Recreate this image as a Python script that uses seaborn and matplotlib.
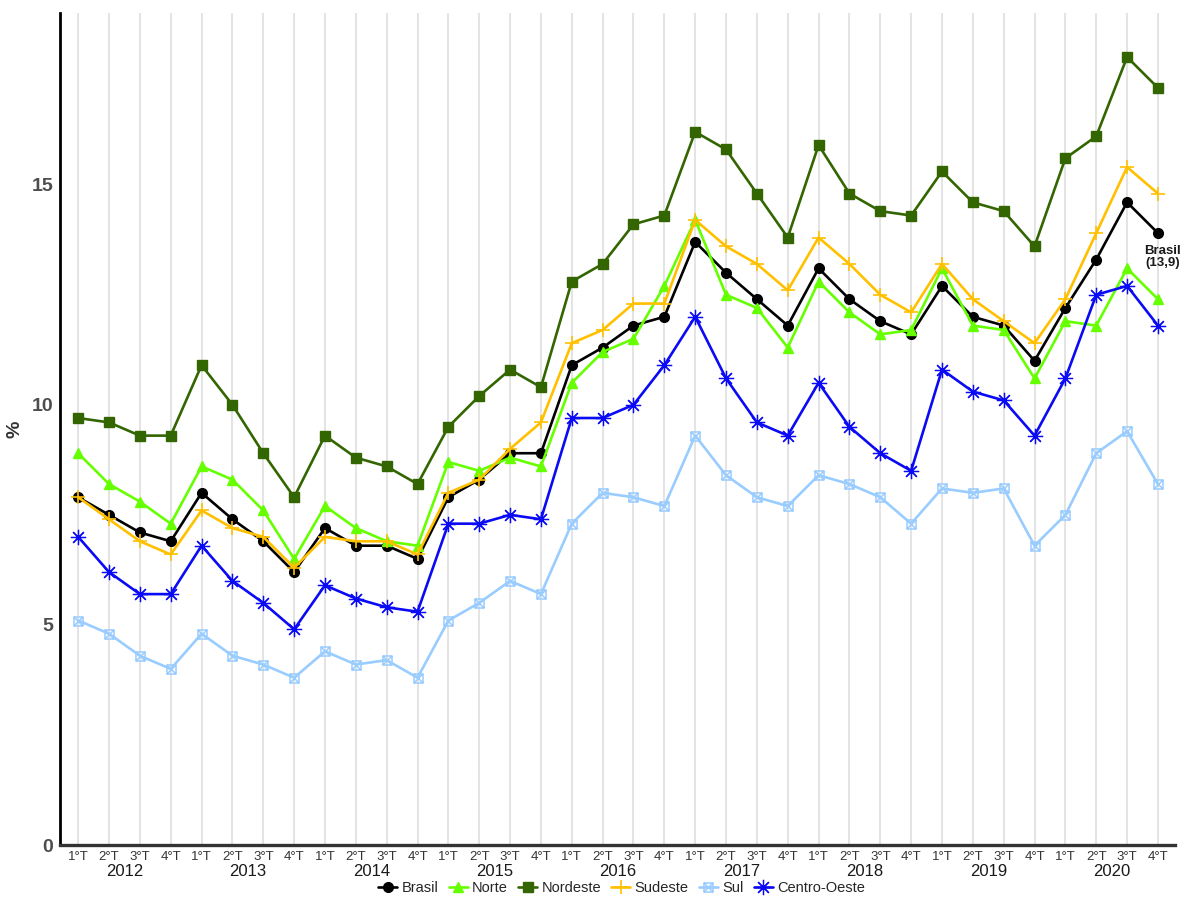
import pandas as pd
import numpy as np
import matplotlib
matplotlib.use("Agg")
import matplotlib.pyplot as plt
import seaborn as sns
from matplotlib.path import Path
from matplotlib import transforms

# Taxa de desocupação por trimestre (%)
anos = ["2012", "2013", "2014", "2015", "2016", "2017", "2018", "2019", "2020"]
trimestres = ["1°T", "2°T", "3°T", "4°T"]

brasil = [7.9, 7.5, 7.1, 6.9, 8.0, 7.4, 6.9, 6.2, 7.2, 6.8, 6.8, 6.5,
          7.9, 8.3, 8.9, 8.9, 10.9, 11.3, 11.8, 12.0, 13.7, 13.0, 12.4, 11.8,
          13.1, 12.4, 11.9, 11.6, 12.7, 12.0, 11.8, 11.0, 12.2, 13.3, 14.6, 13.9]
norte = [8.9, 8.2, 7.8, 7.3, 8.6, 8.3, 7.6, 6.5, 7.7, 7.2, 6.9, 6.8,
         8.7, 8.5, 8.8, 8.6, 10.5, 11.2, 11.5, 12.7, 14.2, 12.5, 12.2, 11.3,
         12.8, 12.1, 11.6, 11.7, 13.1, 11.8, 11.7, 10.6, 11.9, 11.8, 13.1, 12.4]
nordeste = [9.7, 9.6, 9.3, 9.3, 10.9, 10.0, 8.9, 7.9, 9.3, 8.8, 8.6, 8.2,
            9.5, 10.2, 10.8, 10.4, 12.8, 13.2, 14.1, 14.3, 16.2, 15.8, 14.8, 13.8,
            15.9, 14.8, 14.4, 14.3, 15.3, 14.6, 14.4, 13.6, 15.6, 16.1, 17.9, 17.2]
sudeste = [7.9, 7.4, 6.9, 6.6, 7.6, 7.2, 7.0, 6.3, 7.0, 6.9, 6.9, 6.6,
           8.0, 8.3, 9.0, 9.6, 11.4, 11.7, 12.3, 12.3, 14.2, 13.6, 13.2, 12.6,
           13.8, 13.2, 12.5, 12.1, 13.2, 12.4, 11.9, 11.4, 12.4, 13.9, 15.4, 14.8]
sul = [5.1, 4.8, 4.3, 4.0, 4.8, 4.3, 4.1, 3.8, 4.4, 4.1, 4.2, 3.8,
       5.1, 5.5, 6.0, 5.7, 7.3, 8.0, 7.9, 7.7, 9.3, 8.4, 7.9, 7.7,
       8.4, 8.2, 7.9, 7.3, 8.1, 8.0, 8.1, 6.8, 7.5, 8.9, 9.4, 8.2]
centro_oeste = [7.0, 6.2, 5.7, 5.7, 6.8, 6.0, 5.5, 4.9, 5.9, 5.6, 5.4, 5.3,
                7.3, 7.3, 7.5, 7.4, 9.7, 9.7, 10.0, 10.9, 12.0, 10.6, 9.6, 9.3,
                10.5, 9.5, 8.9, 8.5, 10.8, 10.3, 10.1, 9.3, 10.6, 12.5, 12.7, 11.8]

regioes = ["Brasil", "Norte", "Nordeste", "Sudeste", "Sul", "Centro-Oeste"]
series = [brasil, norte, nordeste, sudeste, sul, centro_oeste]

n = len(anos) * len(trimestres)
rows = []
for reg, vals in zip(regioes, series):
    for i, v in enumerate(vals):
        rows.append({"regiao": reg, "pos": i, "taxa": v})
df = pd.DataFrame(rows)

# quadrado com x (shape 7 do ggplot)
box_x = Path(
    [(-1, -1), (1, -1), (1, 1), (-1, 1), (-1, -1), (-1, -1), (1, 1), (-1, 1), (1, -1)],
    [Path.MOVETO, Path.LINETO, Path.LINETO, Path.LINETO, Path.CLOSEPOLY,
     Path.MOVETO, Path.LINETO, Path.MOVETO, Path.LINETO])

estilos = {
    "Brasil": dict(color="#000000", marker="o", ms=7, mew=1, mfc="#000000"),
    "Norte": dict(color="#66FF00", marker="^", ms=7.5, mew=1, mfc="#66FF00"),
    "Nordeste": dict(color="#336600", marker="s", ms=6.5, mew=1, mfc="#336600"),
    "Sudeste": dict(color="#FFC000", marker="+", ms=10, mew=1.2, mfc="#FFC000"),
    "Sul": dict(color="#99CCFF", marker=box_x, ms=6.5, mew=1.1, mfc="none"),
    "Centro-Oeste": dict(color="#0A0AF5", marker=(8, 2, 0), ms=11, mew=0.9, mfc="#0A0AF5"),
}

sns.set_style("white")
plt.rcParams["font.family"] = ["Liberation Sans", "DejaVu Sans"]

fig = plt.figure(figsize=(11.82, 8.98), dpi=100)
ax = fig.add_axes([0.051, 0.059, 0.943, 0.9265])

for reg in regioes:
    st = estilos[reg]
    sub = df[df["regiao"] == reg]
    sns.lineplot(data=sub, x="pos", y="taxa", ax=ax, color=st["color"], linewidth=1.9,
                 marker=st["marker"], markersize=st["ms"], markeredgewidth=st["mew"],
                 markeredgecolor=st["color"], markerfacecolor=st["mfc"], label=reg,
                 legend=False)

ax.set_xlim(-0.58, n - 1 + 0.55)
ax.set_ylim(0, 18.9)

# grade vertical
for i in range(n):
    ax.axvline(i, color="#DCDCDC", linewidth=1.1, zorder=0)

ax.set_xticks(range(n))
ax.set_xticklabels(trimestres * len(anos), fontsize=9.5, color="#333333")
ax.tick_params(axis="x", length=3, width=0.8, color="#888888", pad=1)
ax.set_yticks([0, 5, 10, 15])
ax.set_yticklabels(["0", "5", "10", "15"], fontsize=14, fontweight="bold", color="#4D4D4D")
ax.tick_params(axis="y", length=3, width=0.8, color="#888888", pad=2)
ax.set_xlabel("")
ax.set_ylabel("%", fontsize=14, fontweight="bold", color="#333333", labelpad=6)

trans = transforms.blended_transform_factory(ax.transData, ax.transAxes)
for k, ano in enumerate(anos):
    ax.text(k * 4 + 1.5, -0.032, ano, transform=trans, ha="center", va="center",
            fontsize=12, color="#1A1A1A")

for side in ["top", "right"]:
    ax.spines[side].set_visible(False)
ax.spines["left"].set_color("#000000")
ax.spines["left"].set_linewidth(2)
ax.spines["bottom"].set_color("#333333")
ax.spines["bottom"].set_linewidth(2.4)

ax.text(35.15, 13.35, "Brasil\n(13,9)", ha="center", va="center", fontsize=9.5,
        fontweight="bold", color="#1A1A1A", linespacing=1.0)

handles, labels = ax.get_legend_handles_labels()
fig.legend(handles, labels, loc="center", bbox_to_anchor=(0.526, 0.011), ncol=6,
           frameon=False, fontsize=10.5, handlelength=1.3, handletextpad=0.3,
           columnspacing=0.7, borderaxespad=0, borderpad=0)

fig.savefig("out.png", dpi=100)
